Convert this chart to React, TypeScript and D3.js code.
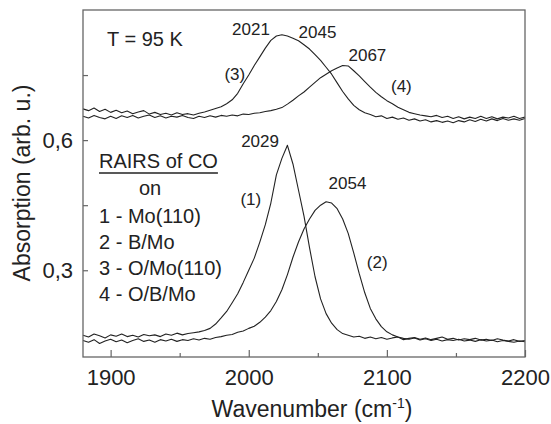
import React, { useRef, useEffect } from "react";
import * as d3 from "d3";

// sampling grid of the spectra (cm-1)
const wavenumbers = d3.range(1880, 2201, 4);

// 1 - Mo(110)
const moData = [
  0.150, 0.146, 0.153, 0.149, 0.144, 0.151, 0.148, 0.153, 0.147, 0.150,
  0.146, 0.152, 0.149, 0.151, 0.147, 0.153, 0.150, 0.155, 0.151, 0.154,
  0.156, 0.158, 0.161, 0.166, 0.176, 0.190, 0.205, 0.225, 0.246, 0.272,
  0.300, 0.328, 0.365, 0.405, 0.455, 0.520, 0.558, 0.588, 0.545, 0.485,
  0.425, 0.352, 0.285, 0.234, 0.200, 0.178, 0.163, 0.154, 0.150, 0.146,
  0.148, 0.143, 0.146, 0.142, 0.145, 0.141, 0.144, 0.146, 0.140, 0.143,
  0.145, 0.141, 0.144, 0.140, 0.143, 0.146, 0.141, 0.143, 0.139, 0.142,
  0.140, 0.143, 0.139, 0.141, 0.138, 0.142, 0.139, 0.137, 0.140, 0.136,
  0.138,
];

// 2 - B/Mo
const bMoData = [
  0.138, 0.134, 0.140, 0.131, 0.137, 0.141, 0.135, 0.139, 0.133, 0.138,
  0.142, 0.136, 0.139, 0.134, 0.140, 0.137, 0.141, 0.136, 0.140, 0.138,
  0.142, 0.139, 0.143, 0.141, 0.145, 0.147, 0.150, 0.152, 0.157, 0.160,
  0.166, 0.171, 0.180, 0.192, 0.207, 0.228, 0.255, 0.290, 0.330, 0.365,
  0.395, 0.418, 0.438, 0.450, 0.458, 0.455, 0.442, 0.418, 0.385, 0.340,
  0.292, 0.248, 0.212, 0.188, 0.170, 0.158, 0.151, 0.146, 0.143, 0.141,
  0.144, 0.139, 0.142, 0.138, 0.141, 0.137, 0.140, 0.138, 0.141, 0.137,
  0.139, 0.136, 0.140, 0.137, 0.139, 0.135, 0.138, 0.136, 0.134, 0.137,
  0.135,
];

// 3 - O/Mo(110)
const oMoData = [
  0.672, 0.668, 0.674, 0.666, 0.671, 0.664, 0.669, 0.663, 0.667, 0.661,
  0.665, 0.668, 0.660, 0.664, 0.659, 0.662, 0.658, 0.663, 0.659, 0.661,
  0.658, 0.662, 0.665, 0.669, 0.673, 0.677, 0.684, 0.693, 0.708, 0.730,
  0.750, 0.772, 0.792, 0.812, 0.830, 0.840, 0.843, 0.840, 0.835, 0.829,
  0.820, 0.810, 0.797, 0.784, 0.768, 0.752, 0.732, 0.712, 0.695, 0.680,
  0.670, 0.663, 0.659, 0.654, 0.656, 0.650, 0.653, 0.648, 0.651, 0.646,
  0.649, 0.644, 0.647, 0.642, 0.645, 0.641, 0.644, 0.640, 0.645, 0.642,
  0.647, 0.643, 0.648, 0.644, 0.649, 0.645, 0.650, 0.646, 0.649, 0.646,
  0.650,
];

// 4 - O/B/Mo
const oBMoData = [
  0.655, 0.651, 0.657, 0.652, 0.649, 0.655, 0.650, 0.656, 0.652, 0.657,
  0.651, 0.655, 0.658, 0.652, 0.656, 0.651, 0.655, 0.653, 0.657, 0.652,
  0.650, 0.655, 0.652, 0.656, 0.653, 0.657, 0.655, 0.658, 0.656, 0.660,
  0.659, 0.662, 0.663, 0.666, 0.668, 0.671, 0.675, 0.683, 0.692, 0.702,
  0.711, 0.722, 0.733, 0.744, 0.752, 0.760, 0.766, 0.772, 0.771, 0.760,
  0.748, 0.735, 0.722, 0.710, 0.700, 0.691, 0.684, 0.676, 0.670, 0.664,
  0.661, 0.658, 0.656, 0.654, 0.657, 0.652, 0.655, 0.650, 0.654, 0.649,
  0.653, 0.650, 0.655, 0.650, 0.654, 0.649, 0.653, 0.651, 0.655, 0.650,
  0.653,
];

const xTicks = [1900, 2000, 2100, 2200];
const xMinorTicks = [1950, 2050, 2150];
const yTicks = [0.3, 0.6];
const yMinorTicks = [0.45, 0.75];
const legendLines = ["1 - Mo(110)", "2 - B/Mo", "3 - O/Mo(110)", "4 - O/B/Mo"];

const App = () => {
  const svgRef = useRef(null);

  useEffect(() => {
    const width = 551;
    const height = 424;
    const left = 83, right = 525, top = 10, bottom = 357;
    const ink = "#222";
    const font = "'Liberation Sans', Arial, sans-serif";

    const svg = d3.select(svgRef.current);
    svg.selectAll("*").remove();
    svg.attr("width", width).attr("height", height);

    const x = d3.scaleLinear().domain([1880, 2200]).range([left, right]);
    const y = d3.scaleLinear().domain([0.1, 0.9]).range([bottom, top]);

    const line = d3.line()
      .x((d) => x(d[0]))
      .y((d) => y(d[1]));

    const series = [moData, bMoData, oMoData, oBMoData];
    svg.append("g")
      .selectAll("path")
      .data(series)
      .enter()
      .append("path")
      .attr("d", (s) => line(wavenumbers.map((w, i) => [w, s[i]])))
      .attr("fill", "none")
      .attr("stroke", ink)
      .attr("stroke-width", 1.1)
      .attr("stroke-linejoin", "round");

    // frame
    svg.append("rect")
      .attr("x", left).attr("y", top)
      .attr("width", right - left).attr("height", bottom - top)
      .attr("fill", "none").attr("stroke", "#666").attr("stroke-width", 1.3);

    // inward ticks
    const xAxis = d3.axisBottom(x).tickValues(xTicks).tickSize(-7).tickPadding(12)
      .tickFormat(d3.format("d"));
    const gx = svg.append("g").attr("transform", `translate(0,${bottom})`).call(xAxis);
    const xMinor = d3.axisBottom(x).tickValues(xMinorTicks).tickSize(-4).tickFormat(() => "");
    const gxm = svg.append("g").attr("transform", `translate(0,${bottom})`).call(xMinor);

    const yAxis = d3.axisLeft(y).tickValues(yTicks).tickSize(-5).tickPadding(10)
      .tickFormat((d) => d3.format(".1f")(d).replace(".", ","));
    const gy = svg.append("g").attr("transform", `translate(${left},0)`).call(yAxis);
    const yMinor = d3.axisLeft(y).tickValues(yMinorTicks).tickSize(-5).tickFormat(() => "");
    const gym = svg.append("g").attr("transform", `translate(${left},0)`).call(yMinor);

    [gx, gxm, gy, gym].forEach((g) => {
      g.select(".domain").remove();
      g.selectAll("line").attr("stroke", "#666").attr("stroke-width", 1.2);
      g.selectAll("text").attr("fill", ink).style("font-family", font).style("font-size", "22px");
    });
    gx.selectAll("text").attr("dy", "0.71em");

    // axis titles
    const xt = svg.append("text")
      .attr("x", (left + right) / 2 + 8).attr("y", 417)
      .attr("text-anchor", "middle")
      .attr("fill", ink).style("font-family", font).style("font-size", "23px");
    xt.append("tspan").text("Wavenumber (cm");
    xt.append("tspan").attr("dy", -9).style("font-size", "14px").text("-1");
    xt.append("tspan").attr("dy", 9).text(")");

    svg.append("text")
      .attr("transform", `translate(30,${183}) rotate(-90)`)
      .attr("text-anchor", "middle")
      .attr("fill", ink).style("font-family", font).style("font-size", "23px")
      .text("Absorption (arb. u.)");

    // annotations
    const txt = (s, wx, wy, size) =>
      svg.append("text")
        .attr("x", x(wx)).attr("y", y(wy))
        .attr("text-anchor", "middle")
        .attr("fill", ink).style("font-family", font).style("font-size", size + "px")
        .text(s);

    txt("2021", 2001.6, 0.842, 17);
    txt("2045", 2049.8, 0.835, 17);
    txt("2067", 2085.9, 0.783, 17);
    txt("(3)", 1989.9, 0.739, 17);
    txt("(4)", 2110.5, 0.711, 17);
    txt("2029", 2008.2, 0.585, 17);
    txt("(1)", 2001.5, 0.450, 17);
    txt("2054", 2071.5, 0.487, 17);
    txt("(2)", 2093, 0.305, 17);

    svg.append("text")
      .attr("x", 107).attr("y", 45.5)
      .attr("fill", ink).style("font-family", font).style("font-size", "20px")
      .text("T = 95 K");

    // legend
    const legend = svg.append("g").style("font-family", font).style("font-size", "20px").attr("fill", ink);
    const title = legend.append("text").attr("x", 99).attr("y", 167.5).text("RAIRS of CO");
    const tw = title.node().getComputedTextLength();
    legend.append("line")
      .attr("x1", 99).attr("x2", 99 + tw)
      .attr("y1", 173).attr("y2", 173)
      .attr("stroke", ink).attr("stroke-width", 1.5);
    legend.append("text").attr("x", 139).attr("y", 195).text("on");
    legend.selectAll("text.item")
      .data(legendLines)
      .enter()
      .append("text")
      .attr("class", "item")
      .attr("x", 99)
      .attr("y", (d, i) => 222.5 + i * 26.3)
      .text((d) => d);
  }, []);

  return (
    <svg ref={svgRef} style={{ position: "absolute", left: 0, top: 0 }}></svg>
  );
};

export default App;
